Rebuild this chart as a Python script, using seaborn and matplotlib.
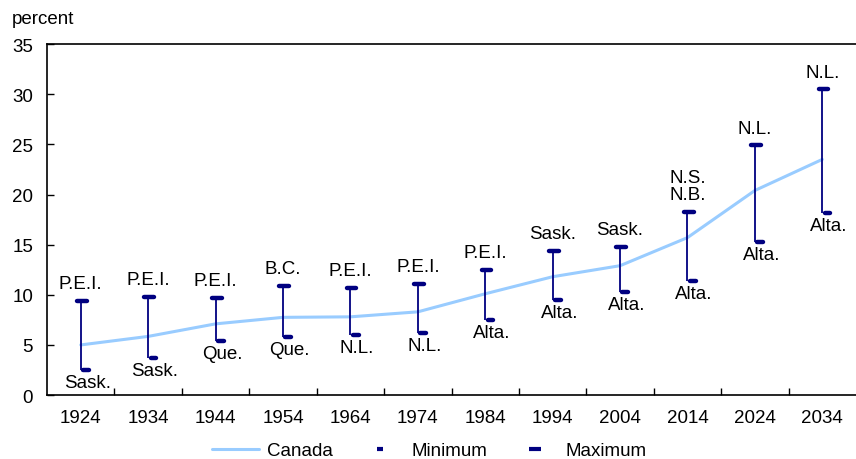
import matplotlib.pyplot as plt
import numpy as np
import pandas as pd
import seaborn as sns
from matplotlib.lines import Line2D


# Valores.
ANOS = ["1924", "1934", "1944", "1954", "1964", "1974",
        "1984", "1994", "2004", "2014", "2024", "2034"]
CANADA = [5.0, 5.85, 7.1, 7.75, 7.8, 8.3, 10.1, 11.8, 12.9, 15.7, 20.4, 23.5]
MINIMO = [2.5, 3.7, 5.4, 5.8, 6.0, 6.2, 7.5, 9.5, 10.3, 11.4, 15.3, 18.2]
MAXIMO = [9.4, 9.8, 9.7, 10.9, 10.7, 11.1, 12.5, 14.4, 14.8, 18.3, 24.9, 30.5]
ROTULO_MIN = ["Sask.", "Sask.", "Que.", "Que.", "N.L.", "N.L.",
              "Alta.", "Alta.", "Alta.", "Alta.", "Alta.", "Alta."]
ROTULO_MAX = ["P.E.I.", "P.E.I.", "P.E.I.", "B.C.", "P.E.I.", "P.E.I.",
              "P.E.I.", "Sask.", "Sask.", "N.S.\nN.B.", "N.L.", "N.L."]

AZUL_CLARO = "#99CCFF"
AZUL_ESCURO = "#000080"
TAMANHO = 13.5


def main():
    sns.set_theme(style="white")
    plt.rcParams["font.family"] = ["Liberation Sans", "DejaVu Sans"]
    plt.rcParams["font.size"] = TAMANHO
    for chave in ["text.color", "xtick.color", "ytick.color", "axes.labelcolor"]:
        plt.rcParams[chave] = "black"

    dados = pd.DataFrame({
        "pos": np.arange(len(ANOS)),
        "canada": CANADA,
        "minimo": MINIMO,
        "maximo": MAXIMO,
    })

    fig = plt.figure(figsize=(8.56, 4.6), dpi=100)
    ax = fig.add_axes([0.055, 0.139, 0.945, 0.763])

    sns.lineplot(data=dados, x="pos", y="canada", color=AZUL_CLARO,
                 linewidth=2.2, ax=ax, zorder=2)

    ax.vlines(dados["pos"], dados["minimo"], dados["maximo"],
              color=AZUL_ESCURO, linewidth=1.3, zorder=3)
    ax.hlines(dados["maximo"], dados["pos"] - 0.055, dados["pos"] + 0.09,
              color=AZUL_ESCURO, linewidth=3.2, capstyle="round", zorder=4)
    ax.hlines(dados["minimo"], dados["pos"] + 0.035, dados["pos"] + 0.12,
              color=AZUL_ESCURO, linewidth=3.2, capstyle="round", zorder=4)

    for pos, valor, texto in zip(dados["pos"], dados["maximo"], ROTULO_MAX):
        ax.annotate(texto, (pos, valor), xytext=(0, 6), textcoords="offset points",
                    ha="center", va="bottom", linespacing=1.05,
                    fontsize=TAMANHO)
    for pos, valor, texto in zip(dados["pos"], dados["minimo"], ROTULO_MIN):
        ax.annotate(texto, (pos + 0.1, valor), xytext=(0, -3),
                    textcoords="offset points", ha="center", va="top",
                    fontsize=TAMANHO)

    ax.set_xlim(-0.5, len(ANOS) - 0.5)
    ax.set_ylim(0, 35)
    ax.set_yticks(range(0, 36, 5))
    ax.set_xticks(dados["pos"])
    ax.set_xticklabels(ANOS)
    ax.set_xticks(np.arange(0.5, len(ANOS) - 0.5), minor=True)
    ax.tick_params(axis="x", which="major", length=0, pad=10,
                   labelsize=TAMANHO)
    ax.tick_params(axis="x", which="minor", direction="in", length=5,
                   width=1, color="black", bottom=True)
    ax.tick_params(axis="y", direction="in", length=5, width=1,
                   color="black", left=True, pad=10, labelsize=TAMANHO)
    ax.set_xlabel("")
    ax.set_ylabel("")

    for lado in ["left", "bottom", "top"]:
        ax.spines[lado].set_color("black")
        ax.spines[lado].set_linewidth(1.2)
    ax.spines["right"].set_visible(False)

    fig.text(0.014, 0.958, "percent", ha="left", va="center", fontsize=TAMANHO)

    handles = [
        Line2D([], [], color=AZUL_CLARO, linewidth=2.2),
        Line2D([], [], color=AZUL_ESCURO, linestyle="none", marker="_",
               markersize=5, markeredgewidth=3),
        Line2D([], [], color=AZUL_ESCURO, linestyle="none", marker="_",
               markersize=8, markeredgewidth=3),
    ]
    fig.legend(handles, ["Canada", "Minimum", "Maximum"], loc="center",
               bbox_to_anchor=(0.502, 0.018), ncol=3, frameon=False,
               fontsize=TAMANHO, handlelength=2.5, columnspacing=1.3,
               handletextpad=0.4)

    fig.savefig("out.png", dpi=100)
    plt.close(fig)


if __name__ == "__main__":
    main()
